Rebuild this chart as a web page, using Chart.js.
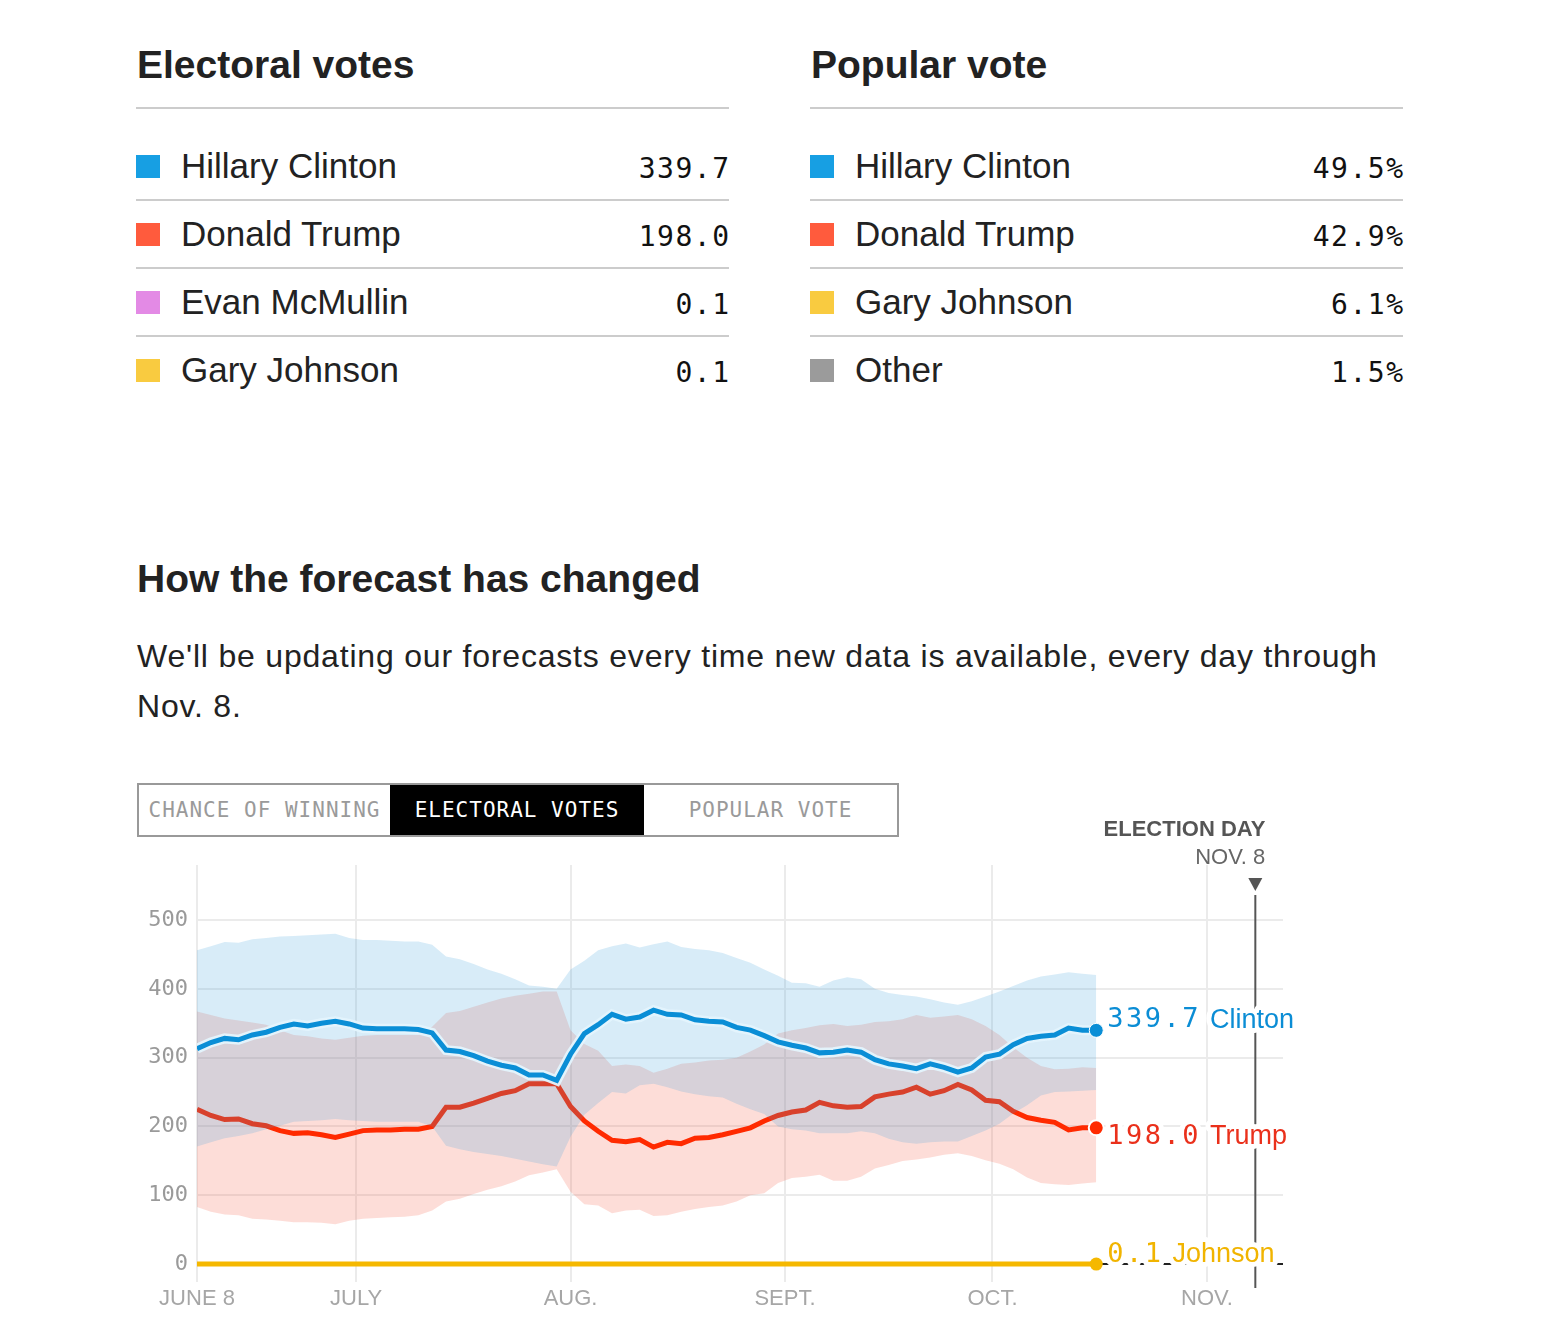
<!DOCTYPE html>
<html lang="en">
<head>
<meta charset="utf-8">
<title>Electoral votes forecast</title>
<script src="https://cdn.jsdelivr.net/npm/chart.js@4.4.1/dist/chart.umd.min.js"></script>
<style>
  html, body { margin: 0; padding: 0; background: #fff; }
  body { position: relative; width: 1554px; height: 1344px; overflow: hidden;
         font-family: "Liberation Sans", Arial, sans-serif; color: #222; }
  .title { position: absolute; margin: 0; font-size: 39px; line-height: 39px; font-weight: bold; white-space: nowrap; color: #222; }
  .rule { position: absolute; width: 593px; height: 0; border-top: 2px solid #ccc; }
  .row { position: absolute; width: 593px; height: 66px; display: flex; align-items: center; }
  .row.sep { border-bottom: 2px solid #ccc; }
  .swatch { width: 24px; height: 23px; margin-right: 21px; flex: none; }
  .name { font-size: 35px; color: #222; white-space: nowrap; }
  .value { margin-left: auto; font-family: "DejaVu Sans Mono", monospace; font-size: 28px;
           letter-spacing: 1.5px; margin-right: -1.5px; color: #111; padding-top: 4px; }
  .intro { position: absolute; left: 137px; top: 631px; font-size: 32px; line-height: 50px; letter-spacing: 0.8px;
           white-space: nowrap; color: #222; }
  .toggle { position: absolute; left: 137px; top: 783px; width: 762px; height: 54px; box-sizing: border-box;
            border: 2px solid #999; display: flex; }
  .toggle div { display: flex; align-items: center; justify-content: center; font-family: "DejaVu Sans Mono", monospace;
                font-size: 21px; letter-spacing: 1px; color: #9a9a9a; }
  .toggle .on { background: #000; color: #fff; }
  #chart { position: absolute; left: 0; top: 800px; }
</style>
</head>
<body>

<h2 class="title" style="left:137px; top:45px;">Electoral votes</h2>
<h2 class="title" style="left:811px; top:45px;">Popular vote</h2>
<div class="rule" style="left:136px; top:107px;"></div>
<div class="rule" style="left:810px; top:107px;"></div>

<h2 class="title" style="left:137px; top:559px;">How the forecast has changed</h2>
<div class="intro">We'll be updating our forecasts every time new data is available, every day through<br>Nov. 8.</div>

<div class="toggle">
  <div style="width:251px;">CHANCE OF WINNING</div>
  <div class="on" style="width:254px;">ELECTORAL VOTES</div>
  <div style="width:253px;">POPULAR VOTE</div>
</div>

<canvas id="chart" width="1554" height="520"></canvas>

<script>
// summary tables
const evNames = ['Hillary Clinton', 'Donald Trump', 'Evan McMullin', 'Gary Johnson'];
const evValues = [339.7, 198.0, 0.1, 0.1];
const evColors = ['#179fe3', '#ff5b3d', '#e38ae5', '#f9cb40'];

const pvNames = ['Hillary Clinton', 'Donald Trump', 'Gary Johnson', 'Other'];
const pvValues = [49.5, 42.9, 6.1, 1.5];
const pvColors = ['#179fe3', '#ff5b3d', '#f9cb40', '#9b9b9b'];

// forecast history, days since June 8
const days = [0, 2, 4, 6, 8, 10, 12, 14, 16, 18, 20, 22, 24, 26, 28, 30, 32, 34, 36, 38, 40, 42,
  44, 46, 48, 50, 52, 54, 56, 58, 60, 62, 64, 66, 68, 70, 72, 74, 76, 78, 80, 82, 84, 86,
  88, 90, 92, 94, 96, 98, 100, 102, 104, 106, 108, 110, 112, 114, 116, 118, 120, 122, 124, 126, 128, 130];

const clinton = [313, 322, 328, 326, 333, 337, 344, 349, 346, 350, 353, 349, 343, 342, 342, 342, 341, 336, 311, 309, 303, 295,
  289, 285, 275, 275, 267, 305, 335, 348, 363, 356, 359, 369, 363, 362, 355, 353, 352, 344, 340, 332, 323, 318,
  314, 307, 308, 311, 308, 297, 291, 288, 284, 291, 286, 279, 285, 301, 305, 319, 328, 331, 333, 343, 340, 339.7];
const clintonHigh = [456, 462, 468, 467, 472, 474, 476, 477, 478, 479, 480, 474, 471, 471, 470, 469, 469, 464, 447, 443, 436, 428,
  422, 414, 405, 403, 400, 428, 441, 456, 462, 466, 460, 465, 469, 461, 458, 456, 452, 445, 438, 428, 419, 409,
  408, 403, 412, 417, 414, 400, 394, 391, 389, 385, 380, 377, 382, 389, 396, 404, 412, 418, 421, 424, 422, 420];
const clintonLow = [171, 177, 183, 186, 190, 196, 201, 207, 208, 209, 211, 209, 208, 207, 207, 207, 207, 200, 172, 167, 163, 160,
  157, 153, 149, 145, 142, 185, 217, 234, 250, 248, 260, 262, 257, 251, 247, 244, 242, 233, 225, 218, 200, 196,
  194, 190, 190, 190, 193, 190, 182, 177, 175, 177, 178, 178, 186, 194, 204, 219, 231, 245, 250, 251, 252, 253];

const trump = [225, 216, 210, 211, 204, 201, 194, 190, 191, 188, 184, 189, 194, 195, 195, 196, 196, 200, 228, 228, 234, 241,
  248, 252, 262, 262, 262, 229, 208, 193, 180, 178, 181, 170, 177, 175, 183, 184, 188, 193, 198, 208, 216, 221,
  224, 235, 230, 228, 229, 243, 247, 250, 257, 247, 252, 261, 253, 238, 236, 222, 213, 209, 206, 195, 198, 198];
const trumpHigh = [367, 362, 357, 354, 351, 348, 340, 333, 331, 328, 326, 329, 332, 333, 333, 333, 333, 345, 365, 368, 374, 380,
  386, 390, 393, 396, 396, 340, 320, 310, 288, 290, 288, 278, 284, 291, 293, 296, 297, 300, 309, 319, 335, 340,
  343, 347, 349, 346, 348, 352, 353, 356, 362, 358, 360, 362, 356, 346, 333, 315, 300, 288, 283, 284, 286, 285];
const trumpLow = [83, 76, 72, 71, 66, 65, 63, 61, 61, 60, 58, 63, 66, 67, 68, 69, 71, 78, 91, 95, 102, 108,
  113, 120, 129, 133, 138, 105, 87, 85, 74, 78, 79, 70, 71, 76, 80, 83, 85, 91, 100, 103, 118, 125,
  127, 130, 121, 121, 127, 139, 144, 150, 152, 155, 159, 161, 157, 151, 146, 138, 126, 118, 116, 115, 117, 119];

const johnson = [0.1, 0.1, 0.1, 0.1, 0.1, 0.1, 0.1, 0.1, 0.1, 0.1, 0.1,
  0.1, 0.1, 0.1, 0.1, 0.1, 0.1, 0.1, 0.1, 0.1, 0.1, 0.1,
  0.1, 0.1, 0.1, 0.1, 0.1, 0.1, 0.1, 0.1, 0.1, 0.1, 0.1,
  0.1, 0.1, 0.1, 0.1, 0.1, 0.1, 0.1, 0.1, 0.1, 0.1, 0.1,
  0.1, 0.1, 0.1, 0.1, 0.1, 0.1, 0.1, 0.1, 0.1, 0.1, 0.1,
  0.1, 0.1, 0.1, 0.1, 0.1, 0.1, 0.1, 0.1, 0.1, 0.1, 0.1];

const seriesNames = ['Clinton', 'Trump', 'Johnson'];
const tickDays = [0, 23, 54, 85, 115, 146];
const tickLabels = ['JUNE 8', 'JULY', 'AUG.', 'SEPT.', 'OCT.', 'NOV.'];
const yTicks = [0, 100, 200, 300, 400, 500];
const electionDay = 153;

function buildTable(left, names, values, colors, suffix) {
  names.forEach((name, i) => {
    const row = document.createElement('div');
    row.className = 'row' + (i < names.length - 1 ? ' sep' : '');
    row.style.left = left + 'px';
    row.style.top = (133 + i * 68) + 'px';
    row.innerHTML = '<span class="swatch" style="background:' + colors[i] + '"></span>' +
      '<span class="name">' + name + '</span>' +
      '<span class="value">' + values[i].toFixed(1) + suffix + '</span>';
    document.body.appendChild(row);
  });
}
buildTable(136, evNames, evValues, evColors, '');
buildTable(810, pvNames, pvValues, pvColors, '%');

const toPoints = (arr) => days.map((d, i) => ({ x: d, y: arr[i] }));
const last = days.length - 1;
const endDot = (r) => (c) => (c.dataIndex === last ? r : 0);
const none = 'rgba(0,0,0,0)';

// election day marker + end-of-line labels
const annotations = {
  id: 'annotations',
  afterDatasetsDraw(chart) {
    const { ctx, scales: { x, y } } = chart;
    const ex = x.getPixelForValue(electionDay);
    ctx.save();
    ctx.strokeStyle = '#555';
    ctx.lineWidth = 2;
    ctx.beginPath();
    ctx.moveTo(ex, y.top + 30);
    ctx.lineTo(ex, y.bottom + 6);
    ctx.stroke();
    ctx.fillStyle = '#555';
    ctx.beginPath();
    ctx.moveTo(ex - 7, y.top + 13);
    ctx.lineTo(ex + 7, y.top + 13);
    ctx.lineTo(ex, y.top + 26);
    ctx.closePath();
    ctx.fill();

    ctx.textAlign = 'right';
    ctx.textBaseline = 'alphabetic';
    ctx.font = 'bold 22px "Liberation Sans"';
    ctx.fillText('ELECTION DAY', ex + 10, y.top - 29);
    ctx.font = '22px "Liberation Sans"';
    ctx.fillStyle = '#666';
    ctx.fillText('NOV. 8', ex + 10, y.top - 1);

    const series = [clinton, trump, johnson];
    const colors = ['#0b8dd5', '#ea301b', '#f1b400'];
    const shifts = [-10, 9, -9];
    ctx.textAlign = 'left';
    ctx.textBaseline = 'middle';
    ctx.lineJoin = 'round';
    ctx.strokeStyle = '#fff';
    ctx.lineWidth = 10;
    series.forEach((vals, i) => {
      const v = vals[last];
      const px = x.getPixelForValue(days[last]) + 11;
      const py = y.getPixelForValue(v) + shifts[i];
      const num = v.toFixed(1);
      ctx.fillStyle = colors[i];
      ctx.font = '27px "DejaVu Sans Mono"';
      ctx.letterSpacing = '2.5px';
      ctx.strokeText(num, px, py);
      ctx.fillText(num, px, py);
      const w = ctx.measureText(num).width;
      ctx.letterSpacing = '0px';
      ctx.font = '27px "Liberation Sans"';
      ctx.strokeText(seriesNames[i], px + w + 9, py);
      ctx.fillText(seriesNames[i], px + w + 9, py);
    });
    ctx.restore();
  }
};

new Chart(document.getElementById('chart'), {
  type: 'line',
  data: {
    datasets: [
      { label: 'Johnson', data: toPoints(johnson), borderColor: '#f5b800', borderWidth: 5,
        pointRadius: endDot(6.5), pointBackgroundColor: '#f5b800', pointBorderWidth: 0, order: 0 },
      { label: 'Clinton', data: toPoints(clinton), borderColor: '#0a8ed6', borderWidth: 5,
        pointRadius: endDot(7), pointBackgroundColor: '#0a8ed6', pointBorderColor: '#fff', pointBorderWidth: 1, order: 1 },
      { label: 'Clinton halo', data: toPoints(clinton), borderColor: 'rgba(228,244,253,0.95)', borderWidth: 10,
        pointRadius: 0, order: 2 },
      { label: 'Clinton high', data: toPoints(clintonHigh), borderColor: none, borderWidth: 0, pointRadius: 0,
        fill: '+1', backgroundColor: 'rgba(60,160,222,0.2)', order: 3 },
      { label: 'Clinton low', data: toPoints(clintonLow), borderColor: none, borderWidth: 0, pointRadius: 0, order: 4 },
      { label: 'Trump', data: toPoints(trump), borderColor: '#ff2a00', borderWidth: 5,
        pointRadius: endDot(7.5), pointBackgroundColor: '#ff2a00', pointBorderColor: '#fff', pointBorderWidth: 2, order: 5 },
      { label: 'Trump high', data: toPoints(trumpHigh), borderColor: none, borderWidth: 0, pointRadius: 0,
        fill: '+1', backgroundColor: 'rgba(245,85,60,0.2)', order: 6 },
      { label: 'Trump low', data: toPoints(trumpLow), borderColor: none, borderWidth: 0, pointRadius: 0, order: 7 }
    ]
  },
  options: {
    responsive: false,
    animation: false,
    events: [],
    elements: { line: { tension: 0 }, point: { hitRadius: 0 } },
    layout: { padding: { left: 137, right: 271, top: 65, bottom: 0 } },
    plugins: { legend: { display: false }, tooltip: { enabled: false } },
    scales: {
      x: {
        type: 'linear', min: 0, max: 157,
        afterBuildTicks: (s) => { s.ticks = tickDays.map((v) => ({ value: v })); },
        afterFit: (s) => { s.height = 38; },
        grid: { color: '#ebebeb', lineWidth: 2, drawTicks: false },
        border: { display: false },
        ticks: {
          autoSkip: false, maxRotation: 0, padding: 4, color: '#a6a6a6',
          font: { family: 'Liberation Sans', size: 22 },
          callback: (v, i) => tickLabels[i]
        }
      },
      y: {
        type: 'linear', min: -26, max: 580,
        afterBuildTicks: (s) => { s.ticks = yTicks.map((v) => ({ value: v })); },
        afterFit: (s) => { s.width = 60; },
        grid: { color: (c) => (c.tick && c.tick.value === 0 ? '#222' : '#ebebeb'), lineWidth: 2, drawTicks: false },
        border: { display: false },
        ticks: { padding: 9, color: '#9a9a9a', font: { family: 'DejaVu Sans Mono', size: 22 } }
      }
    }
  },
  plugins: [annotations]
});
</script>
</body>
</html>
